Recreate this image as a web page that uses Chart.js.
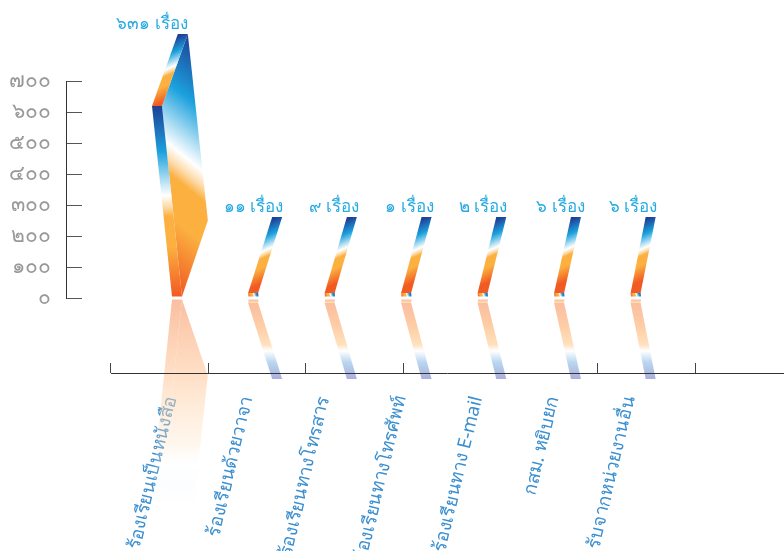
<!DOCTYPE html>
<html><head><meta charset="utf-8">
<script src="https://cdn.jsdelivr.net/npm/chart.js@4/dist/chart.umd.min.js"></script>
<style>html,body{margin:0;padding:0;background:#fff}canvas{display:block}</style>
</head><body>
<canvas id="c" width="784" height="551" style="width:784px;height:551px"></canvas>
<script>
const categories = ['ร้องเรียนเป็นหนังสือ','ร้องเรียนด้วยวาจา','ร้องเรียนทางโทรสาร','ร้องเรียนทางโทรศัพท์','ร้องเรียนทาง E-mail','กสม. หยิบยก','รับจากหน่วยงานอื่น'];
const values = [631,11,9,1,2,6,6];
const valueLabels = ['๖๓๑ เรื่อง','๑๑ เรื่อง','๙ เรื่อง','๑ เรื่อง','๒ เรื่อง','๖ เรื่อง','๖ เรื่อง'];
const thaiDigits = '๐๑๒๓๔๕๖๗๘๙';

// the fake 3d look: bars get pushed back, less and less going right
const depthXAt = x => 30 - 0.0235*x;
const depthYAt = h => -76 + 0.021*h;
const shear = -0.105;
const labelNudge = [-25,0,4,3,0,1,-3];

const ramp = [[0,'#1f3f96'],[.24,'#1ba1dd'],[.47,'#ffffff'],[.53,'#fdd9a6'],[.58,'#fbb040'],[.74,'#fbb040'],[1,'#f15a22']];
const paleRamp = [[0,'250,190,160'],[.3,'254,205,165'],[.55,'255,225,190'],[.63,'255,255,255'],[.78,'185,215,240'],[1,'170,175,220']];

function fillPoly(ctx, pts, fill) {
  ctx.beginPath();
  pts.forEach((p,i) => i ? ctx.lineTo(p[0],p[1]) : ctx.moveTo(p[0],p[1]));
  ctx.closePath();
  ctx.fillStyle = fill;
  ctx.fill();
}

function grad(ctx, x0, y0, x1, y1) {
  const g = ctx.createLinearGradient(x0,y0,x1,y1);
  ramp.forEach(s => g.addColorStop(s[0],s[1]));
  return g;
}

// tall reflections fade out on the way down, short ones stay solid
function paleGrad(ctx, y0, y1, tall) {
  const g = ctx.createLinearGradient(0,y0,0,y1);
  paleRamp.forEach(s => {
    const y = y0 + s[0]*(y1-y0);
    const a = tall ? Math.min(1, Math.max(0,(500-y)/200)) : 1;
    g.addColorStop(s[0],'rgba('+s[1]+','+a+')');
  });
  return g;
}

const bars3d = {
  id: 'bars3d',
  beforeDatasetsDraw(chart) {
    const ctx = chart.ctx;
    const meta = chart.getDatasetMeta(0);
    ctx.save();
    meta.data.forEach(bar => {
      const w = 10, l = bar.x-w/2, r = bar.x+w/2;
      const b = bar.base, t = bar.y;
      const s = (b-t)*shear;
      const h = b-t;
      const dx = depthXAt(bar.x), dy = depthYAt(h), dy0 = depthYAt(0);
      // floor reflection
      const fy = b+3;
      const tall = h>20;
      if (tall) fillPoly(ctx,[[r,fy],[r+dx,fy-dy0],[r+s+dx,fy+h-dy],[r+s,fy+h]],paleGrad(ctx,fy,fy+h-dy,true));
      fillPoly(ctx,[[l,fy],[r,fy],[r+s,fy+h],[l+s,fy+h]],paleGrad(ctx,fy,tall?fy+h-dy:fy+6,tall));
      fillPoly(ctx,[[l+s,fy+h],[r+s,fy+h],[r+s+dx,fy+h-dy],[l+s+dx,fy+h-dy]],paleGrad(ctx,tall?fy:fy+h,fy+h-dy,tall));
      // side, top, front
      if (tall) {
        const x0 = r+s+dx, y0 = t+dy;
        fillPoly(ctx,[[r,b],[r+dx,b+dy0],[r+s+dx,t+dy],[r+s,t]],grad(ctx,x0,y0,x0-130,y0+163));
      }
      const topX = bar.x+s+dx, topY = t+dy;
      fillPoly(ctx,[[l+s,t],[r+s,t],[r+s+dx,topY],[l+s+dx,topY]],grad(ctx,topX,topY,topX+22,topY+50));
      fillPoly(ctx,[[l,b],[r,b],[r+s,t],[l+s,t]],tall?grad(ctx,0,t,0,b):grad(ctx,r,t,l,b));
    });
    ctx.restore();
  },
  afterDatasetsDraw(chart) {
    const ctx = chart.ctx;
    const meta = chart.getDatasetMeta(0);
    const low = chart.scales.lowerAxis;
    ctx.save();
    // lower axis line starts at its first tick and runs off the page
    ctx.strokeStyle = '#333';
    ctx.lineWidth = 1;
    ctx.beginPath();
    ctx.moveTo(low.getPixelForValue(0), 373.5);
    ctx.lineTo(low.right, 373.5);
    ctx.stroke();
    ctx.fillStyle = '#29abe2';
    ctx.font = '17px "Noto Sans", sans-serif';
    ctx.textAlign = 'center';
    meta.data.forEach((bar,i) => {
      ctx.fillText(valueLabels[i], bar.x+labelNudge[i], bar.y+depthYAt(bar.base-bar.y)-5);
    });
    ctx.restore();
  }
};

function noSidePadding(s) {
  s.paddingLeft = 0;
  s.paddingRight = 0;
}

const ctx = document.getElementById('c').getContext('2d');
const chart = new Chart(ctx, {
  type: 'bar',
  data: {
    labels: categories,
    datasets: [{
      data: values.map((v,i) => ({x:i,y:v})),
      yAxisID: 'yFront',
      xAxisID: 'x',
      backgroundColor: 'transparent',
      barThickness: 10,
      minBarLength: 3.5
    }]
  },
  plugins: [bars3d],
  options: {
    responsive: false,
    animation: false,
    layout: {padding: {top: 81}},
    plugins: {legend: {display: false}, tooltip: {enabled: false}},
    scales: {
      x: {
        type: 'linear',
        position: 'bottom',
        offset: false,
        min: -1.451, max: 7.935,
        grid: {display: false, offset: false},
        border: {display: false},
        afterBuildTicks: s => { s.ticks = categories.map((c,i) => ({value:i})); },
        afterFit: s => { s.height = 253; noSidePadding(s); },
        ticks: {
          autoSkip: false, minRotation: 76.5, maxRotation: 76.5, padding: 88, labelOffset: -6,
          color: '#3b8fd0', font: {size: 18.5, family: '"Noto Sans", sans-serif'},
          callback: v => categories[v]
        }
      },
      lowerAxis: {
        type: 'linear', axis: 'x',
        position: {y: -242},
        offset: false,
        min: -0.462, max: 6.91,
        grid: {drawOnChartArea: false, offset: false, tickLength: -10, color: '#444'},
        border: {display: false},
        afterBuildTicks: s => { s.ticks = [0,1,2,3,4,5,6].map(v => ({value:v})); },
        afterFit: noSidePadding,
        ticks: {display: false}
      },
      y: {
        position: 'left',
        min: 0, max: 700,
        afterBuildTicks: s => { s.ticks = [0,100,200,300,400,500,600,700].map(v => ({value:v})); },
        afterFit: s => { s.width = 66; },
        grid: {drawOnChartArea: false, tickLength: -16, color: '#555'},
        border: {display: true, color: '#333'},
        ticks: {
          padding: 31, color: '#999999', font: {size: 21, family: '"Noto Sans", sans-serif'},
          callback: v => String(v).replace(/\d/g, d => thaiDigits[d])
        }
      },
      // front plane of the bars does not sit on the wall scale
      yFront: {display: false, min: -5, max: 713.8}
    }
  }
});
</script>
</body></html>
